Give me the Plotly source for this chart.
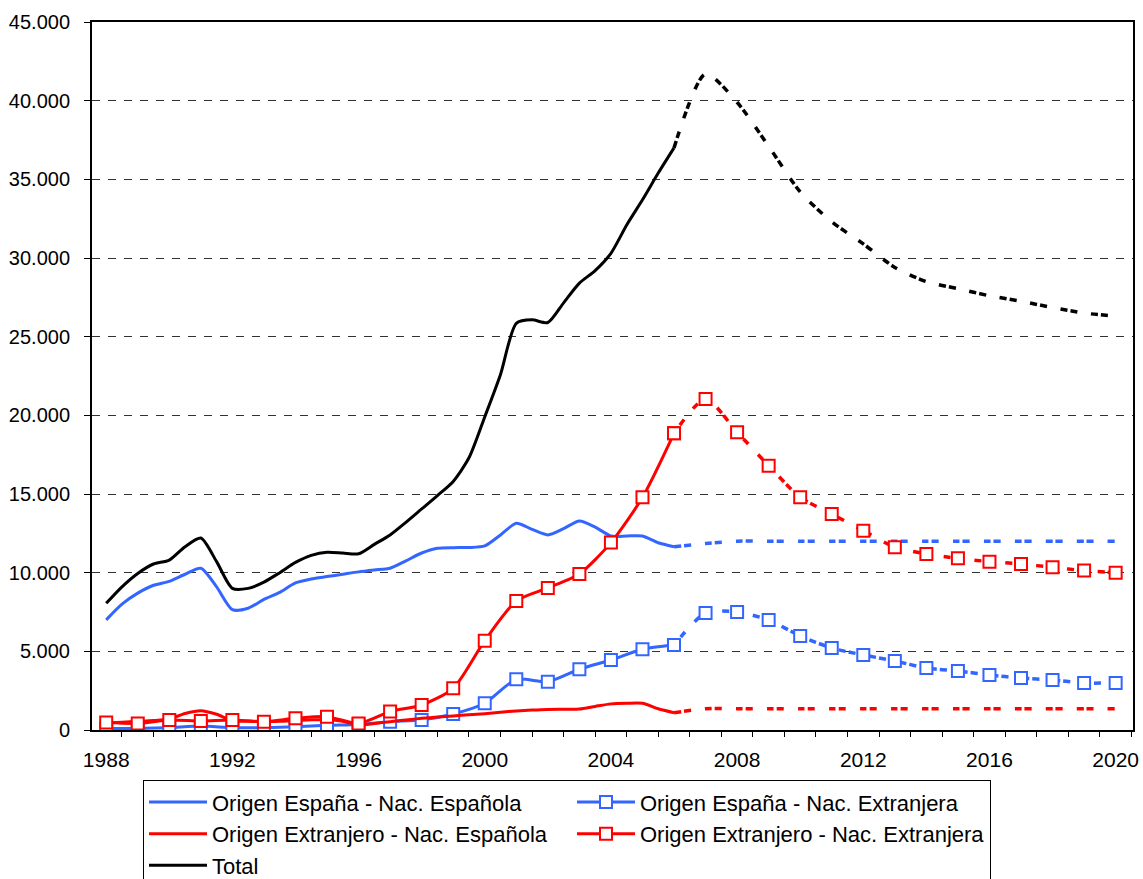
import numpy as np
import plotly.graph_objects as go

# ---------------- data ----------------
# half-year observation points for the historical (solid) curves
hist_t = [1988.0 + 0.5 * i for i in range(37)]

esp_nacesp_hist = [7000, 8000, 8700, 9200, 9450, 9900, 10280, 9100, 7650, 7740,
                   8300, 8750, 9350, 9600, 9750, 9900, 10050, 10170, 10280, 10750,
                   11250, 11550, 11590, 11600, 11700, 12400, 13140, 12750, 12400, 12800,
                   13290, 12900, 12330, 12330, 12330, 11900, 11650]
ext_nacesp_hist = [450, 500, 550, 600, 700, 1050, 1230, 1000, 600, 550,
                   550, 550, 600, 650, 650, 550, 320, 420, 530, 640,
                   740, 820, 890, 970, 1040, 1130, 1210, 1270, 1310, 1320,
                   1330, 1500, 1660, 1700, 1700, 1350, 1100]
total_hist = [8050, 9100, 9950, 10550, 10800, 11650, 12200, 10700, 9000, 9000,
              9400, 10000, 10650, 11100, 11300, 11250, 11200, 11800, 12400, 13200,
              14050, 14900, 15800, 17300, 19900, 22600, 25850, 26070, 25900, 27150,
              28400, 29200, 30300, 32100, 33700, 35400, 37000]

# yearly points (markers)
years_hist = list(range(1988, 2007))
esp_nacext_hist = [100, 100, 150, 250, 150, 150, 200, 300, 350, 530,
                   640, 1020, 1700, 3220, 3070, 3860, 4450, 5130, 5400]
ext_nacext_hist = [470, 420, 640, 570, 640, 530, 740, 850, 420, 1170,
                   1590, 2650, 5680, 8200, 9030, 9920, 11910, 14790, 18860]

# projections (dotted), 2006-2020
years_proj = list(range(2006, 2021))
esp_nacesp_proj = [11650, 11850, 12000, 12000, 12000, 12000, 12000, 12000, 12000,
                   12000, 12000, 12000, 12000, 12000, 12000]
esp_nacext_proj = [5400, 7440, 7500, 6990, 5980, 5210, 4770, 4390, 3940,
                   3750, 3500, 3300, 3180, 2990, 2990]
ext_nacesp_proj = [1100, 1350, 1350, 1350, 1350, 1350, 1350, 1350, 1350,
                   1350, 1350, 1350, 1350, 1350, 1350]
ext_nacext_proj = [18860, 21040, 18930, 16800, 14790, 13730, 12670, 11620, 11190,
                   10910, 10700, 10550, 10340, 10130, 10000]
total_proj = [37000, 41700, 39900, 37100, 34200, 32300, 30900, 29400, 28500,
              28050, 27600, 27250, 26850, 26500, 26300]

names = ["Origen España - Nac. Española", "Origen España - Nac. Extranjera",
         "Origen Extranjero - Nac. Española", "Origen Extranjero - Nac. Extranjera",
         "Total"]

BLUE = "#3366FF"
RED = "#FF0000"
BLACK = "#000000"
DOT = "7px,3px,7px,14px"
SM = 0.7

fig = go.Figure()

def add_pair(name, color, xh, yh, xp, yp, markers, lw):
    mk = dict(symbol="square", size=12, color="white", line=dict(color=color, width=2))
    mode = "lines+markers" if markers else "lines"
    fig.add_trace(go.Scatter(
        x=xp, y=yp, mode=mode, name=name, showlegend=False, legendgroup=name,
        line=dict(color=color, width=3.5, dash=DOT, shape="spline", smoothing=SM),
        marker=mk if markers else None, hoverinfo="skip"))
    fig.add_trace(go.Scatter(
        x=xh, y=yh, mode=mode, name=name, legendgroup=name, legendwidth=lw,
        line=dict(color=color, width=3, shape="spline", smoothing=SM),
        marker=mk if markers else None))

add_pair(names[0], BLUE, hist_t, esp_nacesp_hist, years_proj, esp_nacesp_proj, False, 355)
add_pair(names[1], BLUE, years_hist, esp_nacext_hist, years_proj, esp_nacext_proj, True, 345)
add_pair(names[2], RED, hist_t, ext_nacesp_hist, years_proj, ext_nacesp_proj, False, 355)
add_pair(names[3], RED, years_hist, ext_nacext_hist, years_proj, ext_nacext_proj, True, 345)
add_pair(names[4], BLACK, hist_t, total_hist, years_proj, total_proj, False, 355)

fig.update_layout(
    width=1143, height=879,
    margin=dict(l=92, r=10, t=22, b=149, autoexpand=False),
    paper_bgcolor="white", plot_bgcolor="white",
    separators=",.",
    font=dict(family="Liberation Sans, Arial, sans-serif", size=21, color="black"),
    legend=dict(orientation="h", x=0.049, xanchor="left", y=-0.071, yanchor="top",
                bordercolor="black", borderwidth=1, bgcolor="white",
                entrywidth=355, entrywidthmode="pixels", itemwidth=58,
                font=dict(size=22, color="black"), traceorder="normal"),
)

fig.update_xaxes(range=[1987.55, 2020.55], tickmode="linear", tick0=1988, dtick=4,
                 ticks="", showgrid=False, zeroline=False, ticklabelstandoff=10,
                 showline=True, mirror=True, linecolor="black", linewidth=2,
                 minor=dict(tick0=1988.5, dtick=1, ticks="outside", ticklen=5,
                            tickcolor="black", tickwidth=1, showgrid=False),
                 tickfont=dict(size=21))
fig.update_yaxes(range=[0, 45000], tickmode="linear", tick0=0, dtick=5000,
                 tickformat=",d", ticks="outside", ticklen=6, tickcolor="black",
                 ticklabelstandoff=10,
                 showgrid=True, gridcolor="#333333", gridwidth=1, griddash="8px,8px",
                 zeroline=False, showline=True, mirror=True, linecolor="black",
                 linewidth=2, tickfont=dict(size=20))

fig.write_html("out.html", config={"displayModeBar": False},
               post_script="document.body.style.margin='0';")
